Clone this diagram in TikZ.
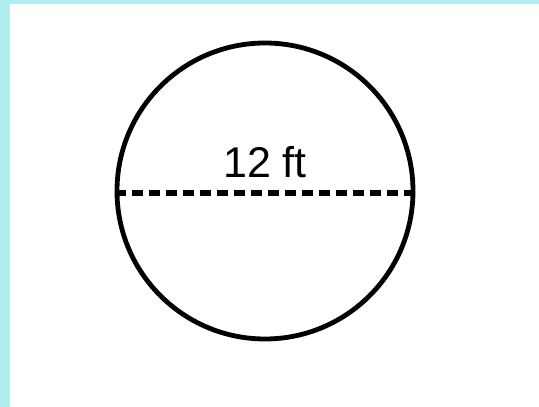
\documentclass[tikz,border=0pt]{standalone}
\usepackage{fontspec}
\setmainfont{Liberation Sans}
\usepackage{tikz}
\usetikzlibrary{positioning}
\definecolor{frame}{HTML}{AFEEEE}
\tikzset{
  disc/.style={circle,draw=black,line width=4.8pt,minimum size=296pt,inner sep=0pt},
  dia/.style={draw=black,line width=5.2pt,dash pattern=on 11pt off 6pt},
  lbl/.style={font=\fontsize{43}{48}\selectfont,inner sep=0pt},
}
\begin{document}
\begin{tikzpicture}[x=1pt,y=1pt]
\fill[frame] (0,0) rectangle (539,407);
\fill[white] (10,0) rectangle (539,403);
\useasboundingbox (0,0) rectangle (539,407);
\node[disc] (c) at (265,216) {};
\draw[dia] ([yshift=-2pt]c.west) -- ([yshift=-2pt]c.east);
\node[lbl,anchor=base] (d) at ([yshift=13pt]c.center) {12 ft};
\end{tikzpicture}
\end{document}
